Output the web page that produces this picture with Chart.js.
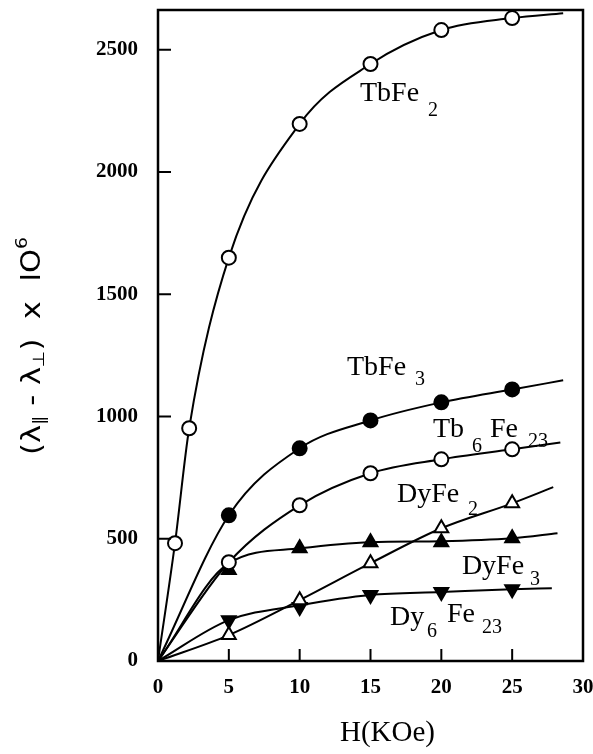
<!DOCTYPE html>
<html lang="en">
<head>
    <meta charset="UTF-8">
    <title>Magnetostriction vs field</title>
    <script src="https://cdn.jsdelivr.net/npm/chart.js"></script>
    <style>
        body { margin: 0; background: #fff; }
        canvas { display: block; }
    </style>
</head>
<body>
<canvas id="chart" width="593" height="754"></canvas>
<script>
// axis ticks
const xTicks = [0, 5, 10, 15, 20, 25, 30];
const yTicks = [0, 500, 1000, 1500, 2000, 2500];

// measured points (H in kOe)
const fields = [5, 10, 15, 20, 25];
const tbfe2Fields = [1.2, 2.2, 5, 10, 15, 20, 25];
const tbfe2 = [482, 952, 1650, 2197, 2442, 2581, 2630];
const tbfe3 = [596, 870, 984, 1058, 1111];
const tb6fe23 = [404, 637, 768, 825, 866];
const dyfe2 = [106, 249, 400, 543, 645];
const dyfe3 = [372, 461, 486, 486, 502];
const dy6fe23 = [167, 221, 270, 282, 294];

// drawn guide curves
const tbfe2CurveX = [0, 1.2, 2.2, 5, 10, 15, 20, 25, 28.6];
const tbfe2CurveY = [0, 482, 952, 1650, 2197, 2442, 2581, 2630, 2650];
const tbfe3CurveX = [0, 5, 10, 15, 20, 25, 28.6];
const tbfe3CurveY = [0, 596, 870, 984, 1058, 1111, 1148];
const tb6fe23CurveX = [0, 5, 10, 15, 20, 25, 28.4];
const tb6fe23CurveY = [0, 404, 637, 768, 825, 866, 894];
const dyfe2CurveX = [0, 5, 10, 15, 20, 25, 27.9];
const dyfe2CurveY = [0, 106, 249, 400, 543, 645, 711];
const dyfe3CurveX = [0, 5, 10, 15, 20, 25, 28.2];
const dyfe3CurveY = [0, 400, 461, 486, 490, 502, 523];
const dy6fe23CurveX = [0, 5, 10, 15, 20, 25, 27.8];
const dy6fe23CurveY = [0, 167, 228, 270, 282, 294, 298];

// curve labels: anchor in data units, pieces [text, dx, dy, small]
const seriesLabels = [
    { x: 14.26, y: 2291, parts: [['TbFe', 0, 0, false], ['2', 68, 15, true]] },
    { x: 13.34, y: 1168, parts: [['TbFe', 0, 0, false], ['3', 68, 10, true]] },
    { x: 19.41, y: 915, parts: [['Tb', 0, 0, false], ['6', 39, 15, true], ['Fe', 57, 0, false], ['23', 95, 10, true]] },
    { x: 16.87, y: 649, parts: [['DyFe', 0, 0, false], ['2', 71, 13, true]] },
    { x: 21.45, y: 355, parts: [['DyFe', 0, 0, false], ['3', 68, 11, true]] },
    { x: 16.37, y: 147, parts: [['Dy', 0, 0, false], ['6', 37, 12, true], ['Fe', 57, -3, false], ['23', 92, 8, true]] }
];

function pts(xs, ys) {
    return xs.map((x, i) => ({ x: x, y: ys[i] }));
}

function curve(xs, ys) {
    return {
        type: 'line',
        data: pts(xs, ys),
        borderColor: '#000',
        borderWidth: 2,
        pointRadius: 0,
        fill: false,
        cubicInterpolationMode: 'monotone',
        order: 1
    };
}

function markers(xs, ys, style, filled, rot) {
    return {
        type: 'scatter',
        data: pts(xs, ys),
        pointStyle: style,
        pointRadius: style === 'circle' ? 7 : 8,
        pointRotation: rot || 0,
        backgroundColor: filled ? '#000' : '#fff',
        borderColor: '#000',
        borderWidth: 2,
        showLine: false,
        order: 0
    };
}

const serif = 'Liberation Serif, Times New Roman, serif';

// frame, inward ticks, titles and curve labels
const decorations = {
    id: 'decorations',
    afterDraw(chart) {
        const ctx = chart.ctx;
        const a = chart.chartArea;
        const xs = chart.scales.x, ys = chart.scales.y;
        ctx.save();
        ctx.strokeStyle = '#000';
        ctx.lineWidth = 2.5;
        ctx.strokeRect(a.left, a.top, a.right - a.left, a.bottom - a.top);

        ctx.lineWidth = 2;
        ctx.beginPath();
        xTicks.slice(1, -1).forEach(v => {
            const px = xs.getPixelForValue(v);
            ctx.moveTo(px, a.bottom);
            ctx.lineTo(px, a.bottom - 12);
        });
        yTicks.slice(1).forEach(v => {
            const py = ys.getPixelForValue(v);
            ctx.moveTo(a.left, py);
            ctx.lineTo(a.left + 13, py);
        });
        ctx.stroke();

        ctx.fillStyle = '#000';
        ctx.textBaseline = 'alphabetic';
        ctx.textAlign = 'left';
        seriesLabels.forEach(l => {
            const bx = xs.getPixelForValue(l.x);
            const by = ys.getPixelForValue(l.y);
            l.parts.forEach(p => {
                ctx.font = (p[3] ? '20px ' : '28px ') + serif;
                ctx.fillText(p[0], bx + p[1], by + p[2]);
            });
        });

        // x title
        ctx.font = '29px ' + serif;
        ctx.fillText('H(KOe)', 340, 741);

        // y title, rotated and stretched along its length
        const big = '26px DejaVu Sans, sans-serif';
        const small = '16px DejaVu Sans, sans-serif';
        const pieces = [
            ['(λ', big, 0], ['‖', small, 4], [' - λ', big, 0], ['⊥', small, 4],
            [')  x  lO', big, 0], ['6', small, -13]
        ];
        let total = 0;
        pieces.forEach(p => { ctx.font = p[1]; total += ctx.measureText(p[0]).width; });
        const k = 218 / total;
        ctx.translate(40, 455);
        ctx.rotate(-Math.PI / 2);
        ctx.scale(k, 1);
        let pos = 0;
        pieces.forEach(p => {
            ctx.font = p[1];
            ctx.fillText(p[0], pos, p[2]);
            pos += ctx.measureText(p[0]).width;
        });
        ctx.restore();
    }
};

const tickFont = { family: serif, size: 21, weight: 'bold' };

new Chart(document.getElementById('chart'), {
    type: 'scatter',
    data: {
        datasets: [
            markers(tbfe2Fields, tbfe2, 'circle', false),
            markers(fields, tbfe3, 'circle', true),
            markers(fields, tb6fe23, 'circle', false),
            markers(fields, dyfe3, 'triangle', true),
            markers(fields, dyfe2, 'triangle', false),
            markers(fields, dy6fe23, 'triangle', true, 180),
            curve(tbfe2CurveX, tbfe2CurveY),
            curve(tbfe3CurveX, tbfe3CurveY),
            curve(tb6fe23CurveX, tb6fe23CurveY),
            curve(dyfe2CurveX, dyfe2CurveY),
            curve(dyfe3CurveX, dyfe3CurveY),
            curve(dy6fe23CurveX, dy6fe23CurveY)
        ]
    },
    options: {
        responsive: false,
        animation: false,
        layout: { padding: { top: 9, right: 10, left: 0, bottom: 0 } },
        plugins: { legend: { display: false }, tooltip: { enabled: false } },
        scales: {
            x: {
                type: 'linear',
                min: 0,
                max: 30,
                afterBuildTicks: s => { s.ticks = xTicks.map(v => ({ value: v })); },
                afterFit: s => { s.height = 93; s.paddingLeft = 0; s.paddingRight = 0; },
                grid: { display: false, drawTicks: false },
                border: { display: false },
                ticks: { padding: 14, color: '#000', font: tickFont, maxRotation: 0, callback: v => String(v) }
            },
            y: {
                type: 'linear',
                min: 0,
                max: 2663,
                afterBuildTicks: s => { s.ticks = yTicks.map(v => ({ value: v })); },
                afterFit: s => { s.width = 158; s.paddingTop = 0; s.paddingBottom = 0; },
                grid: { display: false, drawTicks: false },
                border: { display: false },
                ticks: { padding: 20, color: '#000', font: tickFont, callback: v => String(v) }
            }
        }
    },
    plugins: [decorations]
});
</script>
</body>
</html>
